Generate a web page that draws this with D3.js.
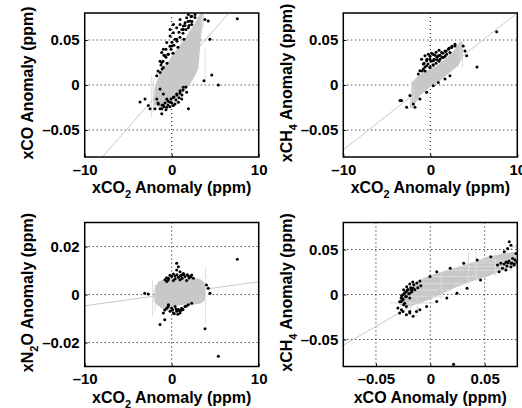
<!DOCTYPE html>
<html>
<head>
<meta charset="utf-8">
<script src="https://cdn.jsdelivr.net/npm/d3@7/dist/d3.min.js"></script>
<style>
  body { margin: 0; background: #fff; }
</style>
</head>
<body>
<script>
// Tick values per axis
const co2Ticks = [-10, 0, 10];
const coTicks = [-0.05, 0, 0.05];
const ch4Ticks = [-0.05, 0, 0.05];
const n2oTicks = [-0.02, 0, 0.02];

// Panel 1: xCO2 vs xCO
const p1Black = [
  [0.96, 0.0673], [1.53, 0.0692], [2.11, 0.0710], [1.92, 0.0636], [1.34, 0.0618], [0.57, 0.0636],
  [0.19, 0.0581], [-0.19, 0.0545], [-0.57, 0.0471], [-0.96, 0.0397], [-0.77, 0.0324], [-1.15, 0.0250],
  [-0.96, 0.0195], [-1.34, 0.0140], [-1.72, 0.0103], [0.19, 0.0673], [0.96, 0.0728], [1.72, 0.0747],
  [2.30, 0.0765], [2.68, 0.0784], [0.57, 0.0508], [0.0, 0.0434], [-0.38, 0.0342], [-0.19, 0.0618],
  [2.30, 0.0673], [1.92, 0.0784], [1.34, 0.0655], [-1.15, 0.0361], [3.83, 0.0728],
  [-1.57, 0.0155], [-1.23, 0.0221], [-1.00, 0.0265], [-0.66, 0.0309], [-0.43, 0.0342], [-0.08, 0.0397],
  [0.26, 0.0442], [0.61, 0.0486], [0.95, 0.0530], [1.30, 0.0574], [1.64, 0.0618], [1.99, 0.0662],
  [2.33, 0.0706], [2.68, 0.0751], [-1.34, 0.0265], [-0.89, 0.0331], [-0.20, 0.0430], [0.38, 0.0508],
  [1.18, 0.0618], [1.87, 0.0706], [-0.66, 0.0397], [0.03, 0.0475], [0.84, 0.0585], [1.53, 0.0662],
  [2.22, 0.0762], [-1.11, 0.0177], [-0.54, 0.0243], [0.15, 0.0353], [0.72, 0.0419], [1.41, 0.0508],
  [-1.34, -0.0044], [-0.96, -0.0099], [-0.57, -0.0155], [-0.19, -0.0191], [0.19, -0.0136], [0.57, -0.0099],
  [0.96, -0.0063], [1.34, -0.0026], [-0.96, -0.0228], [-1.53, -0.0210], [-1.15, -0.0265], [-0.57, -0.0247],
  [0.19, -0.0228], [0.77, -0.0191], [1.15, -0.0155], [1.72, -0.0081], [-1.72, -0.0155], [-1.92, -0.0265],
  [-3.07, -0.0155], [-2.68, -0.0228], [-2.49, -0.0265], [1.92, -0.0265],
  [-1.11, -0.0221], [-0.77, -0.0199], [-0.43, -0.0177], [-0.08, -0.0155], [0.26, -0.0132], [0.61, -0.0110],
  [0.95, -0.0088], [1.30, -0.0055], [1.64, -0.0022], [-0.89, -0.0243], [-0.43, -0.0221], [0.03, -0.0199],
  [0.49, -0.0166], [0.84, -0.0143], [1.18, -0.0110], [-0.20, -0.0243], [0.38, -0.0210], [-1.34, -0.0265],
  [-0.66, -0.0276], [-1.57, -0.0199],
  [7.54, 0.0736], [5.36, 0.0], [4.6, 0.011], [3.71, 0.0047], [-3.64, -0.019], [4.4, 0.0508],
  [4.2, 0.071], [-1.15, -0.032]
];
const p1Cloud = [
  [-2.11, -0.0228], [-1.92, -0.0008], [-1.15, 0.0177], [-0.20, 0.0287], [0.57, 0.0397], [1.72, 0.0544],
  [2.68, 0.0692], [3.25, 0.079], [3.63, 0.08], [3.45, 0.0618], [3.25, 0.0397], [3.06, 0.0177],
  [2.48, 0.0066], [1.72, -0.0044], [0.57, -0.0155], [-0.57, -0.021], [-1.34, -0.0246]
];
const p1Bars = [
  [-2.3, -0.036, -2.3, 0.011], [-2.1, -0.03, -2.1, 0.005], [3.85, 0.003, 3.85, 0.04],
  [3.5, 0.062, 3.5, 0.085], [3.65, 0.065, 3.65, 0.085], [-1.0, -0.036, -1.0, -0.02]
];
const p1Fit = [0.011, 0.0076];

// Panel 2: xCO2 vs xCH4
const p2Black = [
  [-1.0, 0.0287], [-0.61, 0.0324], [-0.23, 0.0342], [0.15, 0.0353], [0.54, 0.0331], [0.92, 0.0324],
  [1.30, 0.0361], [1.69, 0.0379], [2.07, 0.0397], [2.45, 0.0416], [-0.80, 0.0232], [-0.42, 0.0269],
  [-0.04, 0.0287], [0.34, 0.0269], [0.73, 0.0280], [1.11, 0.0287], [1.49, 0.0305], [-0.42, 0.0213],
  [-0.04, 0.0195], [0.34, 0.0221], [-0.80, 0.0177], [-1.19, 0.0158], [-1.38, 0.0121], [1.88, 0.0342],
  [2.26, 0.0361], [2.84, 0.0434], [3.79, 0.0434], [3.98, 0.0379], [4.18, 0.0324],
  [-0.95, 0.0155], [-0.61, 0.0199], [-0.26, 0.0232], [0.08, 0.0265], [0.43, 0.0287], [0.77, 0.0309],
  [1.11, 0.0331], [1.46, 0.0353], [1.80, 0.0375], [2.15, 0.0408], [2.49, 0.0430], [2.84, 0.0453],
  [-0.72, 0.0243], [-0.38, 0.0287], [-0.03, 0.0320], [0.31, 0.0342], [0.66, 0.0364], [1.00, 0.0386],
  [1.34, 0.0309], [0.66, 0.0243], [-0.03, 0.0199], [-0.61, 0.0155], [0.31, 0.0221], [1.00, 0.0265],
  [1.69, 0.0320],
  [0.34, -0.0007], [0.92, 0.0029], [1.69, 0.0066], [2.26, 0.0103], [-0.42, -0.0081], [-1.19, -0.0155],
  [-1.95, -0.0210], [-2.72, -0.0247], [-3.30, -0.0173], [-1.76, -0.0247], [-2.34, -0.0118],
  [5.36, 0.0199], [7.63, 0.0593], [-3.48, -0.0173]
];
const p2Cloud = [
  [-2.34, -0.0247], [-2.15, 0.0029], [-1.38, 0.0103], [-0.42, 0.0158], [0.73, 0.0213], [1.88, 0.0305],
  [2.84, 0.0397], [3.41, 0.0489], [3.72, 0.0478], [3.60, 0.0287], [3.22, 0.0213], [2.26, 0.0140],
  [1.11, 0.0048], [-0.04, -0.0026], [-1.19, -0.0118], [-1.76, -0.0210], [-2.15, -0.0265]
];
const p2Bars = [
  [-2.15, -0.025, -2.15, 0.005], [3.4, 0.028, 3.4, 0.05], [3.7, 0.02, 3.7, 0.045], [-1.9, -0.02, -1.9, 0.0]
];
const p2Fit = [0.0076, 0.004];

// Panel 3: xCO2 vs xN2O
const p3Black = [
  [-0.77, 0.0061], [-0.38, 0.0068], [0.0, 0.0075], [0.38, 0.0077], [0.77, 0.0072], [1.15, 0.0081],
  [1.53, 0.0075], [1.92, 0.0077], [2.30, 0.0081], [2.49, 0.0068], [-0.57, 0.0054], [0.19, 0.0058],
  [0.96, 0.0061], [1.72, 0.0058], [0.57, 0.0102], [0.77, 0.0116], [0.96, 0.0095], [1.34, 0.0088],
  [-0.6, 0.0070], [-0.2, 0.0080], [0.2, 0.0085], [0.6, 0.0082], [1.0, 0.0078], [1.4, 0.0083],
  [1.8, 0.0082], [2.2, 0.0074], [0.4, 0.0066], [1.2, 0.0068], [2.0, 0.0069], [-0.4, 0.0060],
  [-0.38, -0.0043], [0.0, -0.0057], [0.38, -0.0050], [0.77, -0.0063], [1.15, -0.0057], [1.53, -0.0050],
  [1.92, -0.0043], [-0.19, -0.0070], [0.19, -0.0077], [0.57, -0.0070], [-0.57, -0.0057], [-0.96, -0.0077],
  [0.96, -0.0077], [2.30, -0.0036],
  [-0.4, -0.0050], [0.1, -0.0065], [0.5, -0.0060], [0.9, -0.0068], [1.3, -0.0062], [1.7, -0.0048],
  [-0.8, -0.0065], [0.3, -0.0080], [0.7, -0.0082], [1.1, -0.0066],
  [0.57, 0.0130], [-1.34, -0.0125], [3.83, -0.0143], [5.36, -0.0257], [7.54, 0.0147], [4.2, 0.0026],
  [4.4, 0.0005], [-2.7, 0.0002], [-3.1, 0.0005], [-0.8, -0.0105], [4.0, 0.0040]
];
const p3Cloud = [
  [-2.11, -0.0008], [-1.92, 0.0033], [-1.53, 0.0054], [-0.96, 0.0063], [0.19, 0.0068], [1.72, 0.0068],
  [2.87, 0.0068], [3.45, 0.0061], [3.83, 0.0047], [3.83, -0.0022], [3.45, -0.0036], [2.49, -0.0043],
  [1.34, -0.0043], [0.19, -0.0050], [-0.57, -0.0070], [-1.15, -0.0057], [-1.72, -0.0043], [-2.03, -0.0029]
];
const p3Bars = [
  [-2.2, -0.009, -2.2, 0.006], [3.9, -0.012, 3.9, 0.0115], [-1.9, -0.007, -1.9, 0.004]
];
const p3Fit = [0.0005, 0.0003];

// Panel 4: xCO vs xCH4
const p4Black = [
  [-0.0267, -0.0040], [-0.0251, -0.0004], [-0.0236, 0.0015], [-0.0220, 0.0033], [-0.0205, 0.0052],
  [-0.0189, 0.0015], [-0.0174, 0.0052], [-0.0158, 0.0070], [-0.0251, -0.0059], [-0.0220, -0.0022],
  [-0.0267, -0.0077], [-0.0236, -0.0096], [-0.0189, -0.0040], [-0.0298, -0.0151], [-0.0282, -0.0206],
  [-0.0251, -0.0188], [-0.0220, -0.0224], [-0.0189, -0.0206], [-0.0158, -0.0243], [-0.0127, -0.0188],
  [-0.0096, -0.0169],
  [-0.0264, -0.0014], [-0.0236, 0.0019], [-0.0208, 0.0052], [-0.0180, 0.0074], [-0.0152, 0.0107],
  [-0.0124, 0.0129], [-0.0096, 0.0151], [-0.0245, 0.0052], [-0.0217, 0.0085], [-0.0189, 0.0118],
  [-0.0161, 0.0140], [-0.0254, -0.0047], [-0.0226, -0.0025], [-0.0198, 0.0008], [-0.0170, 0.0030],
  [-0.0142, 0.0052], [-0.0115, 0.0074], [-0.0087, 0.0096], [-0.0282, -0.0081], [-0.0245, -0.0114],
  [-0.0220, -0.0132], [-0.0189, -0.0188], [-0.0266, -0.0169],
  [-0.0003, 0.0199], [0.0059, 0.0254], [0.0183, 0.0291], [0.0307, 0.0346],
  [0.0431, 0.0383], [0.0556, 0.0419], [0.0680, 0.0475], [0.0711, 0.0511], [0.0742, 0.0548],
  [0.0618, 0.0327], [0.0649, 0.0346], [0.0680, 0.0338], [0.0711, 0.0353], [0.0742, 0.0346],
  [0.0773, 0.0338], [0.0664, 0.0291], [0.0695, 0.0272], [0.0633, 0.0254], [0.0757, 0.0401],
  [0.0788, 0.0456], [0.0696, 0.0361], [0.0723, 0.0372], [0.0751, 0.0350], [0.0779, 0.0383],
  [0.0705, 0.0317], [0.0742, 0.0306], [0.0770, 0.0328], [0.0798, 0.0361],
  [0.0152, -0.0040], [0.0245, 0.0015], [0.0338, 0.0070], [0.0059, -0.0077],
  [-0.0034, -0.0132], [0.0462, 0.0162], [0.0726, 0.0585], [0.0214, -0.0776]
];
const p4Cloud = [
  [-0.0282, -0.0022], [-0.0189, 0.0088], [-0.0065, 0.0180], [0.0059, 0.0235], [0.0214, 0.0291],
  [0.0369, 0.0346], [0.0525, 0.0419], [0.0680, 0.0456], [0.0773, 0.0475], [0.0804, 0.0346],
  [0.0680, 0.0272], [0.0525, 0.0199], [0.0369, 0.0143], [0.0214, 0.0070], [0.0059, -0.0022],
  [-0.0096, -0.0096], [-0.0220, -0.0132], [-0.0282, -0.0114]
];
const p4Bars = [
  [-0.037, -0.0095, 0.003, -0.0095], [-0.025, -0.002, 0.01, -0.002], [-0.02, 0.005, 0.02, 0.005],
  [-0.01, 0.012, 0.03, 0.012], [0.0, 0.020, 0.045, 0.020], [0.015, 0.027, 0.075, 0.027],
  [0.025, 0.031, 0.08, 0.031], [0.03, 0.035, 0.08, 0.035], [0.045, 0.038, 0.08, 0.038],
  [0.035, 0.01, 0.035, 0.048], [0.042, 0.015, 0.042, 0.05], [0.06, 0.02, 0.06, 0.045],
  [-0.012, -0.025, -0.012, -0.002], [-0.018, -0.022, -0.018, -0.005], [0.01, -0.005, 0.01, 0.025]
];
const p4Fit = [0.694, -0.0007];

// Layout
const width = 522;
const height = 408;
const plotW = 174;
const plotH = 144;
const gray = "#c8c8c8";
const barGray = "#dcdcdc";

const panels = [
  { left: 84.7, top: 13, xDom: [-10, 10], yDom: [-0.08, 0.08], xTicks: co2Ticks, yTicks: coTicks,
    xLabel: [["xCO", 0], ["2", 1], [" Anomaly (ppm)", 0]], yLabel: [["xCO Anomaly (ppm)", 0]],
    black: p1Black, cloud: p1Cloud, bars: p1Bars, fit: p1Fit },
  { left: 343.3, top: 13, xDom: [-10, 10], yDom: [-0.08, 0.08], xTicks: co2Ticks, yTicks: ch4Ticks,
    xLabel: [["xCO", 0], ["2", 1], [" Anomaly (ppm)", 0]], yLabel: [["xCH", 0], ["4", 1], [" Anomaly (ppm)", 0]],
    black: p2Black, cloud: p2Cloud, bars: p2Bars, fit: p2Fit },
  { left: 84.7, top: 222.5, xDom: [-10, 10], yDom: [-0.03, 0.03], xTicks: co2Ticks, yTicks: n2oTicks,
    xLabel: [["xCO", 0], ["2", 1], [" Anomaly (ppm)", 0]], yLabel: [["xN", 0], ["2", 1], ["O Anomaly (ppm)", 0]],
    black: p3Black, cloud: p3Cloud, bars: p3Bars, fit: p3Fit },
  { left: 343.3, top: 222.5, xDom: [-0.08, 0.08], yDom: [-0.08, 0.08], xTicks: coTicks, yTicks: ch4Ticks,
    xLabel: [["xCO Anomaly (ppm)", 0]], yLabel: [["xCH", 0], ["4", 1], [" Anomaly (ppm)", 0]],
    black: p4Black, cloud: p4Cloud, bars: p4Bars, fit: p4Fit }
];

const fmt = d => d === 0 ? "0" : (d < 0 ? "\u2013" : "") + Math.abs(d);

const svg = d3.select("body").append("svg")
  .attr("width", width)
  .attr("height", height)
  .style("font-family", "'Liberation Sans', Arial, sans-serif")
  .style("font-weight", "bold");

// write a label made of normal and subscript pieces
function addLabel(textSel, parts) {
  parts.forEach(([t, sub]) => {
    const ts = textSel.append("tspan").text(t);
    if (sub) ts.attr("font-size", 11).attr("dy", 5);
    else if (textSel.selectAll("tspan").size() > 1) ts.attr("dy", -5);
  });
}

panels.forEach((p, i) => {
  const x = d3.scaleLinear().domain(p.xDom).range([p.left, p.left + plotW]);
  const y = d3.scaleLinear().domain(p.yDom).range([p.top + plotH, p.top]);
  const g = svg.append("g");

  g.append("clipPath").attr("id", "clip" + i)
    .append("rect")
    .attr("x", p.left).attr("y", p.top)
    .attr("width", plotW).attr("height", plotH);

  // dotted grid
  g.selectAll(".gx").data(p.xTicks).join("line")
    .attr("x1", d => x(d)).attr("x2", d => x(d))
    .attr("y1", p.top).attr("y2", p.top + plotH)
    .attr("stroke", "#000").attr("stroke-width", 1).attr("stroke-dasharray", "1,3");
  g.selectAll(".gy").data(p.yTicks).join("line")
    .attr("y1", d => y(d)).attr("y2", d => y(d))
    .attr("x1", p.left).attr("x2", p.left + plotW)
    .attr("stroke", "#000").attr("stroke-width", 1).attr("stroke-dasharray", "1,3");

  const pg = g.append("g").attr("clip-path", `url(#clip${i})`);

  pg.append("path").datum(p.cloud)
    .attr("d", d3.line().x(d => x(d[0])).y(d => y(d[1])).curve(d3.curveLinearClosed))
    .attr("fill", gray);

  pg.selectAll(".bar").data(p.bars).join("line")
    .attr("x1", d => x(d[0])).attr("y1", d => y(d[1]))
    .attr("x2", d => x(d[2])).attr("y2", d => y(d[3]))
    .attr("stroke", barGray).attr("stroke-width", 1);

  pg.append("line")
    .attr("x1", x(p.xDom[0])).attr("y1", y(p.fit[0] * p.xDom[0] + p.fit[1]))
    .attr("x2", x(p.xDom[1])).attr("y2", y(p.fit[0] * p.xDom[1] + p.fit[1]))
    .attr("stroke", gray).attr("stroke-width", 1);

  // outliers on top of the grey cloud
  pg.selectAll("circle").data(p.black).join("circle")
    .attr("cx", d => x(d[0])).attr("cy", d => y(d[1]))
    .attr("r", 1.5).attr("fill", "#000");

  // box
  g.append("rect")
    .attr("x", p.left).attr("y", p.top)
    .attr("width", plotW).attr("height", plotH)
    .attr("fill", "none").attr("stroke", "#000").attr("stroke-width", 1.5);

  // axes
  const ax = g.append("g")
    .attr("transform", `translate(0,${p.top + plotH})`)
    .call(d3.axisBottom(x).tickValues(p.xTicks).tickFormat(fmt).tickSizeInner(-3).tickSizeOuter(0).tickPadding(7));
  const ay = g.append("g")
    .attr("transform", `translate(${p.left},0)`)
    .call(d3.axisLeft(y).tickValues(p.yTicks).tickFormat(fmt).tickSizeInner(-3).tickSizeOuter(0).tickPadding(5));
  [ax, ay].forEach(a => {
    a.select(".domain").remove();
    a.attr("font-family", null).attr("font-size", 15);
    a.selectAll("line").attr("stroke", "#000");
    a.selectAll("text").attr("fill", "#000");
  });

  // axis titles
  const xt = g.append("text")
    .attr("x", p.left + plotW / 2)
    .attr("y", p.top + plotH + 36)
    .attr("text-anchor", "middle")
    .attr("font-size", 16);
  addLabel(xt, p.xLabel);

  const yt = g.append("text")
    .attr("transform", `translate(${p.left - 51.5},${p.top + plotH / 2 - 2}) rotate(-90)`)
    .attr("text-anchor", "middle")
    .attr("font-size", 16);
  addLabel(yt, p.yLabel);
});
</script>
</body>
</html>
